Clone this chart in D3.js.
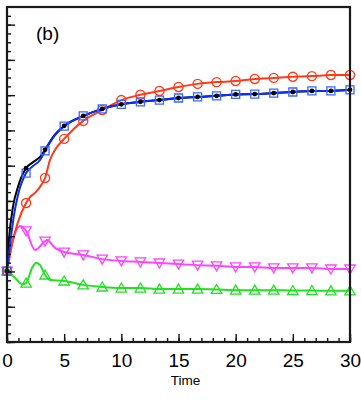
<!DOCTYPE html>
<html>
<head>
  <meta charset="utf-8">
  <script src="https://d3js.org/d3.v7.min.js"></script>
  <style>
    body { margin: 0; background: #fff; }
    svg text { font-family: "Liberation Sans", Arial, sans-serif; fill: #000; }
  </style>
</head>
<body>
<script>
// marker times (every 5/3 time units)
var markerTime = [0, 1.67, 3.33, 5, 6.67, 8.33, 10, 11.67, 13.33, 15, 16.67, 18.33, 20, 21.67, 23.33, 25, 26.67, 28.33, 30];

// values at the markers
var blackMarks   = [2.01, 4.93, 5.45, 6.13, 6.41, 6.61, 6.74, 6.81, 6.86, 6.92, 6.95, 6.98, 7.02, 7.03, 7.06, 7.09, 7.12, 7.12, 7.15];
var blueMarks    = [2.01, 4.79, 5.42, 6.12, 6.41, 6.61, 6.74, 6.81, 6.86, 6.92, 6.95, 6.98, 7.02, 7.03, 7.06, 7.09, 7.12, 7.12, 7.15];
var redMarks     = [2.01, 3.94, 4.65, 5.76, 6.27, 6.58, 6.86, 7.01, 7.12, 7.23, 7.32, 7.37, 7.40, 7.46, 7.49, 7.52, 7.54, 7.57, 7.57];
var magentaMarks = [2.01, 3.15, 2.86, 2.55, 2.47, 2.35, 2.30, 2.27, 2.24, 2.21, 2.18, 2.16, 2.13, 2.13, 2.10, 2.10, 2.10, 2.07, 2.07];
var greenMarks   = [2.01, 1.67, 1.90, 1.73, 1.62, 1.56, 1.53, 1.53, 1.50, 1.50, 1.50, 1.49, 1.47, 1.47, 1.47, 1.46, 1.46, 1.45, 1.45];

// finer points of the curves before t = 5 (after that the curve runs through the markers)
var blackEarly   = [[0, 2.01], [0.17, 2.89], [0.52, 3.83], [0.96, 4.40], [1.67, 4.93], [2.27, 5.10], [2.89, 5.25], [3.33, 5.45], [4.02, 5.81]];
var blueEarly    = [[0, 2.01], [0.26, 2.75], [0.61, 3.60], [0.96, 4.17], [1.67, 4.79], [2.27, 4.99], [2.89, 5.16], [3.33, 5.42], [4.02, 5.79]];
var redEarly     = [[0, 2.01], [0.26, 2.47], [0.52, 2.89], [0.96, 3.40], [1.67, 3.94], [2.01, 4.11], [2.45, 4.23], [2.89, 4.40], [3.33, 4.65], [3.76, 5.16], [4.2, 5.45]];
var magentaEarly = [[0, 2.01], [0.52, 2.89], [1.14, 3.29], [1.67, 3.15], [2.45, 2.61], [3.33, 2.86], [3.5, 2.89], [4.2, 2.67]];
var greenEarly   = [[0, 2.01], [0.7, 1.82], [1.31, 1.64], [1.67, 1.67], [2.19, 2.10], [2.54, 2.24], [2.89, 2.18], [3.33, 1.90], [3.76, 1.76]];

var xTicks = [0, 5, 10, 15, 20, 25, 30];

var W = 361, H = 407;
var padL = 7, padR = 350, padT = 7, padB = 342;

var x = d3.scaleLinear().domain([0, 30]).range([padL, padR]);
var y = d3.scaleLinear().domain([0, 9.5]).range([padB, padT]);

var svg = d3.select("body").append("svg")
  .attr("width", W).attr("height", H);

function fullLine(early, marks) {
  var pts = early.slice();
  markerTime.forEach(function(t, i) {
    if (t >= 5) pts.push([t, marks[i]]);
  });
  return pts;
}

var series = [
  {name: "magenta", color: "#ff44ff", early: magentaEarly, marks: magentaMarks, shape: "down"},
  {name: "green",   color: "#22e022", early: greenEarly,   marks: greenMarks,   shape: "up"},
  {name: "red",     color: "#ff3a1a", early: redEarly,     marks: redMarks,     shape: "circle"},
  {name: "black",   color: "#000000", early: blackEarly,   marks: blackMarks,   shape: "dot"},
  {name: "blue",    color: "#0a2cff", early: blueEarly,    marks: blueMarks,    shape: "square"}
];

var line = d3.line()
  .x(function(d) { return x(d[0]); })
  .y(function(d) { return y(d[1]); })
  .curve(d3.curveMonotoneX);

var plot = svg.append("g");

series.forEach(function(s) {
  plot.append("path")
    .datum(fullLine(s.early, s.marks))
    .attr("d", line)
    .attr("fill", "none")
    .attr("stroke", s.color)
    .attr("stroke-width", 2);
});

// markers
series.forEach(function(s) {
  var g = plot.append("g");
  var pts = markerTime.map(function(t, i) { return [t, s.marks[i]]; });
  var sel = g.selectAll("path").data(pts).enter().append("path")
    .attr("transform", function(d) { return "translate(" + x(d[0]) + "," + y(d[1]) + ")"; });
  if (s.shape === "circle") {
    sel.attr("d", d3.symbol().type(d3.symbolCircle).size(66))
      .attr("fill", "none").attr("stroke", s.color).attr("stroke-width", 1.3);
  } else if (s.shape === "square") {
    sel.attr("d", "M-4,-4H4V4H-4Z")
      .attr("fill", "none").attr("stroke", "#3a66ff").attr("stroke-width", 1.3);
  } else if (s.shape === "up") {
    sel.attr("d", "M0,-5L5.2,4H-5.2Z")
      .attr("fill", "none").attr("stroke", s.color).attr("stroke-width", 1.3);
  } else if (s.shape === "down") {
    sel.attr("d", "M0,5L5.2,-4H-5.2Z")
      .attr("fill", "none").attr("stroke", s.color).attr("stroke-width", 1.3);
  }
});

// black dots on top of the squares
plot.append("g").selectAll("circle")
  .data(markerTime.map(function(t, i) { return [t, blackMarks[i]]; }))
  .enter().append("circle")
  .attr("cx", function(d) { return x(d[0]); })
  .attr("cy", function(d) { return y(d[1]); })
  .attr("r", 2.4)
  .attr("fill", "#000");

// axes, ticks pointing inward
var xAxis = d3.axisBottom(x).tickValues(xTicks).tickSize(-8).tickPadding(12).tickFormat(d3.format("d"));
var xMinor = d3.axisBottom(x).tickValues(d3.range(0, 31, 1)).tickSize(-4).tickFormat("");
var yMajor = d3.axisLeft(y).tickValues(d3.range(0, 10, 1)).tickSize(-8).tickFormat("");
var yMinor = d3.axisLeft(y).tickValues(d3.range(0, 9.5, 0.25)).tickSize(-4).tickFormat("");

function styleAxis(g) {
  g.select(".domain").remove();
  g.selectAll("line").attr("stroke", "#111").attr("stroke-width", 1.4);
}

svg.append("g").attr("transform", "translate(0," + padB + ")").call(xMinor).call(styleAxis);
svg.append("g").attr("transform", "translate(0," + padB + ")").call(xAxis).call(styleAxis)
  .selectAll("text").attr("font-size", 19).attr("fill", "#000")
  .attr("font-family", "Liberation Sans, Arial, sans-serif");
svg.append("g").attr("transform", "translate(" + padL + ",0)").call(yMinor).call(styleAxis);
svg.append("g").attr("transform", "translate(" + padL + ",0)").call(yMajor).call(styleAxis);

// frame
svg.append("rect")
  .attr("x", padL).attr("y", padT)
  .attr("width", padR - padL).attr("height", padB - padT)
  .attr("fill", "none").attr("stroke", "#1a1a1a").attr("stroke-width", 2.2);

svg.append("text")
  .attr("x", (padL + padR) / 2 + 7).attr("y", 385)
  .attr("text-anchor", "middle").attr("font-size", 13.5)
  .text("Time");

svg.append("text")
  .attr("x", 36).attr("y", 40)
  .attr("font-size", 19)
  .text("(b)");
</script>
</body>
</html>
